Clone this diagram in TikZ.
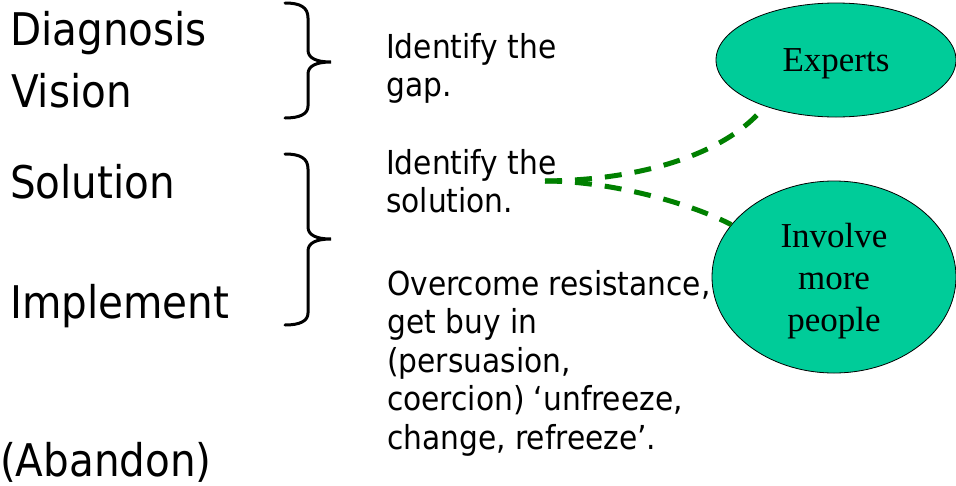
\documentclass[tikz,border=0pt]{standalone}
\usepackage{fontspec}
\setmainfont{DejaVu Sans Condensed}
\newfontfamily\ellfont{Liberation Serif}
\usetikzlibrary{shapes.geometric}
\definecolor{ellfill}{RGB}{0,204,153}
\definecolor{conngreen}{RGB}{0,128,0}
\tikzset{
  bigtext/.style={anchor=base west, inner sep=0pt, font=\fontsize{45}{54}\selectfont},
  smalltext/.style={anchor=north west, inner sep=0pt, align=left, font=\fontsize{33}{38.5}\selectfont},
  bubble/.style={ellipse, draw=black, line width=0.8pt, fill=ellfill, inner sep=0pt, align=center, font=\ellfont\fontsize{35}{42}\selectfont},
  bracepath/.style={line width=3pt, line cap=round},
  conn/.style={draw=conngreen, line width=5pt, dash pattern=on 17pt off 13pt}
}
\begin{document}
\begin{tikzpicture}[x=1pt, y=-1pt]
\useasboundingbox (0,0) rectangle (956,485);
% left labels
\node[bigtext] (diag) at (10,45) {Diagnosis};
\node[bigtext] (vis) at (11,107) {Vision};
\node[bigtext] (sol) at (10,198) {Solution};
\node[bigtext] (impl) at (10,318) {Implement};
\node[bigtext] (aban) at (0,476) {(Abandon)};
% braces
\draw[bracepath] (285,3) .. controls (300,3) and (308,7) .. (308,18) -- (308,50)
  .. controls (308,58) and (316,62) .. (331,62)
  .. controls (316,62) and (308,66) .. (308,74) -- (308,106)
  .. controls (308,114) and (300,118) .. (285,118);
\draw[bracepath] (285,154) .. controls (300,154) and (308,158) .. (308,169) -- (308,227)
  .. controls (308,235) and (316,239) .. (331,239)
  .. controls (316,239) and (308,243) .. (308,251) -- (308,313)
  .. controls (308,321) and (300,325) .. (285,325);
% middle texts
\node[smalltext] (gap) at (386,31) {\strut Identify the\\gap.};
\node[smalltext] (solt) at (386,147) {\strut Identify the\\solution.};
\node[smalltext] (over) at (387,268) {\strut Overcome resistance,\\get buy in\\(persuasion,\\coercion) ‘unfreeze,\\change, refreeze’.};
% ellipses
\node[bubble, minimum width=240pt, minimum height=114pt] (exp) at (836,60) {\rule{0pt}{31pt}Experts};
\node[bubble, minimum width=244pt, minimum height=192pt] (inv) at (834,277) {\rule{0pt}{32pt}Involve\\more\\people};
% connectors
\coordinate (src) at (545,181);
\draw[conn] (src) .. controls (650,180) and (730,150) .. (exp.213);
\draw[conn] (src) .. controls (610,181) and (690,203) .. (inv.153);
\end{tikzpicture}
\end{document}
